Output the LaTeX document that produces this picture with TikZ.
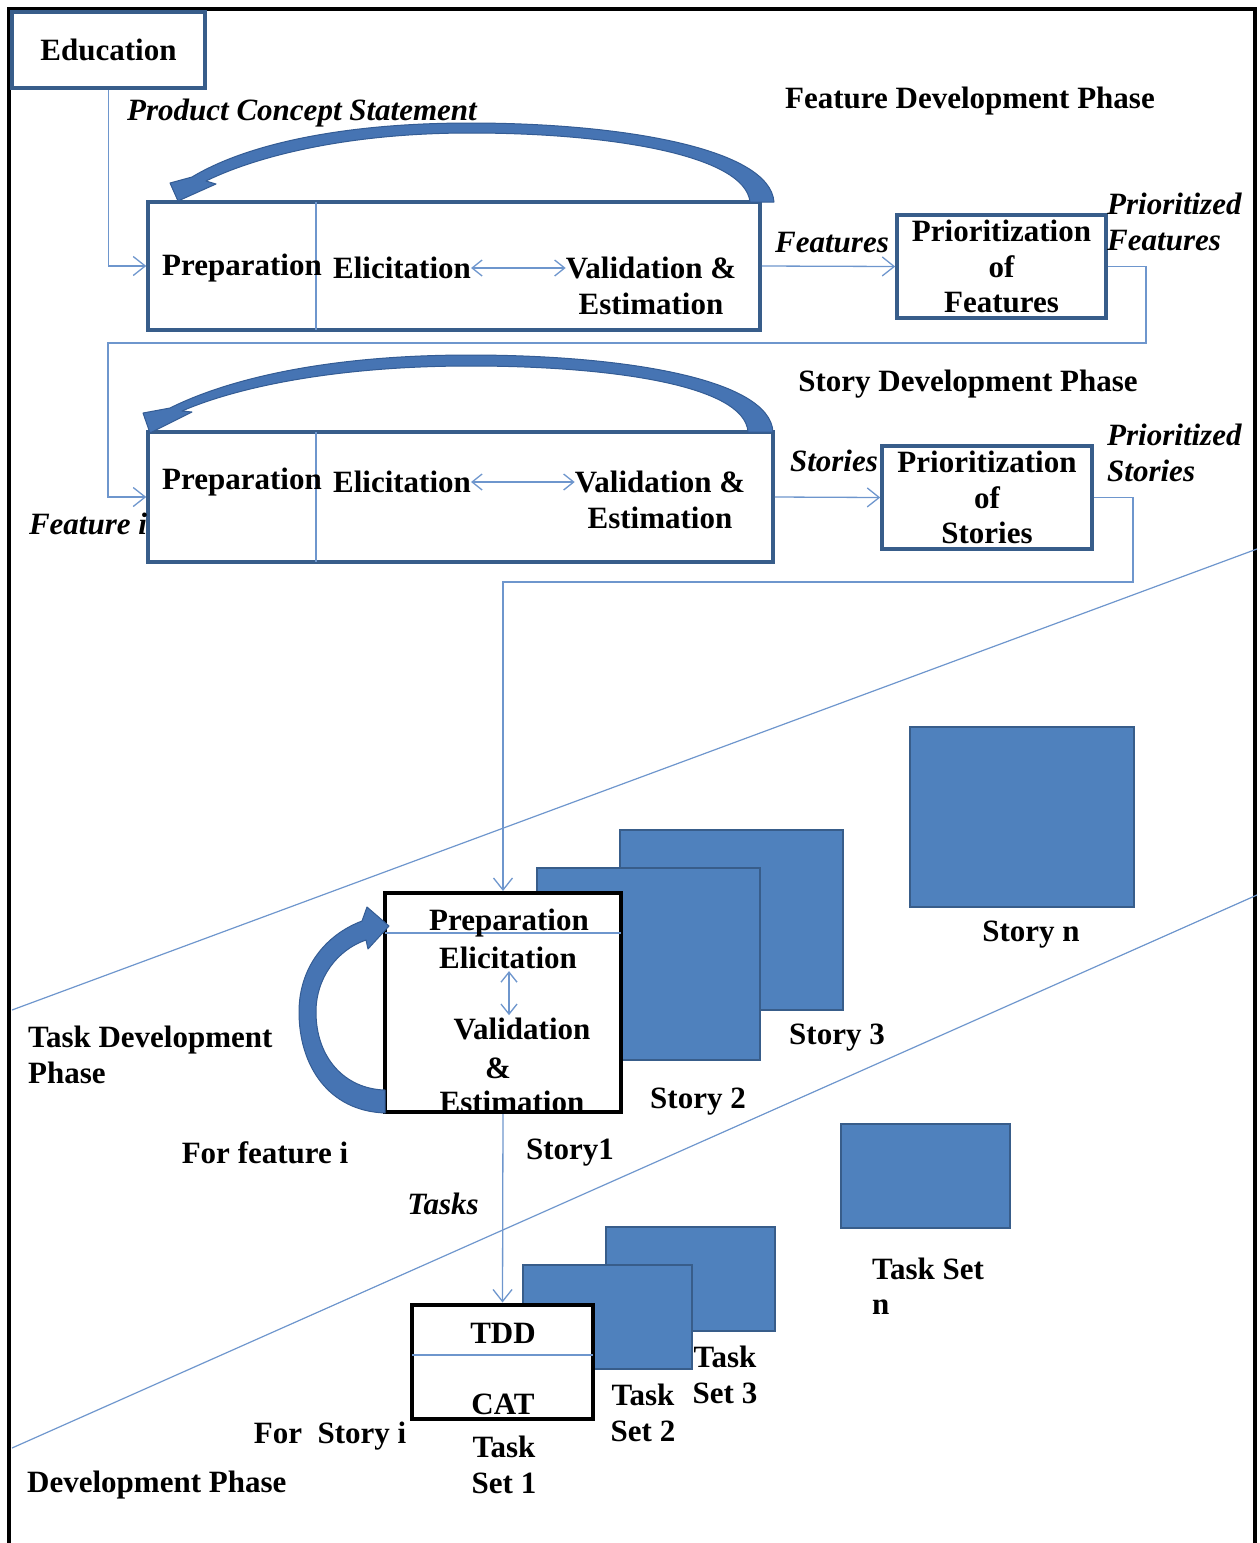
\documentclass[tikz,border=0pt]{standalone}
\usepackage{fontspec}
\setmainfont{Liberation Serif}
\usetikzlibrary{arrows.meta}
\definecolor{edge}{HTML}{385D8A}
\definecolor{fillblue}{HTML}{4F81BD}
\definecolor{linkblue}{HTML}{6E96CD}
\definecolor{bandblue}{HTML}{4674B3}
\definecolor{bandedge}{HTML}{345C94}
\begin{document}
\begin{tikzpicture}[x=1pt,y=-1pt,
  tx/.style={font=\bfseries\fontsize{31}{35.5}\selectfont, inner sep=0pt, align=center},
  itx/.style={tx, font=\bfseries\itshape\fontsize{31}{35.5}\selectfont},
  bluebox/.style={draw=edge, line width=3.5pt, fill=white, inner sep=0pt, tx},
  blackbox/.style={draw=black, line width=4pt, fill=white, inner sep=0pt},
  card/.style={draw=edge, line width=2pt, fill=fillblue, inner sep=0pt},
  conn/.style={draw=linkblue, line width=1.3pt, -{Straight Barb[length=12pt,width=19pt]}},
  both/.style={draw=linkblue, line width=1.3pt, {Straight Barb[length=10pt,width=16pt]}-{Straight Barb[length=10pt,width=16pt]}},
  divider/.style={draw=linkblue, line width=1.3pt},
  slash/.style={draw=linkblue, line width=1.2pt},
  band/.style={fill=bandblue, draw=bandedge, line width=1pt, line join=round}]

\useasboundingbox (0,0) rectangle (1260,1543);

% frame
\draw[line width=4pt, black] (8.7,1543) -- (8.7,8.7) -- (1254.7,8.7) -- (1254.7,1543);

% phase separators
\draw[slash] (12,1010) -- (1257,549);
\draw[slash] (12,1448) -- (1257,895);

% ---------- feature development ----------
\node[bluebox, minimum width=193pt, minimum height=76pt] (edu) at (108.5,50) {Education};
\node[itx] (pcs) at (302,113) {Product Concept Statement};
\node[tx] (fdp) at (970,101) {Feature Development Phase};

\node[bluebox, minimum width=612pt, minimum height=128pt] (fbox) at (454,266) {};
\draw[divider] (316,202) -- (316,330);
\node[tx] (prep1) at (242,268) {Preparation};
\node[tx] (elic1) at (402,268) {Elicitation};
\node[tx] (val1) at (651,286) {Validation \&\\Estimation};
\draw[both] (elic1.east) -- (elic1.east -| val1.west);

\draw[band] (774,202) .. controls (770,148) and (620,123) .. (470,123)
  .. controls (340,123) and (245,145) .. (192,177) -- (170,183) -- (178,201)
  -- (216,184) -- (206,181) .. controls (255,157) and (345,133) .. (470,133)
  .. controls (610,133) and (745,155) .. (750,202) -- cycle;

\node[bluebox, minimum width=209pt, minimum height=103pt] (pfbox) at (1001.5,266.5) {Prioritization\\of\\Features};
\node[itx] (feat) at (832,243) {Features};
\node[itx, anchor=west, align=left] (pfeat) at (1107,222) {Prioritized\\Features};

\draw[conn] (edu.south) |- (fbox.west);
\draw[conn] (fbox.east) -- (pfbox.west);

% ---------- story development ----------
\node[tx] (sdp) at (968,384) {Story Development Phase};
\node[bluebox, minimum width=625pt, minimum height=130pt] (sbox) at (460.5,497) {};
\draw[divider] (316,432) -- (316,562);
\node[tx] (prep2) at (242,482) {Preparation};
\node[tx] (elic2) at (402,482) {Elicitation};
\node[tx] (val2) at (660,500) {Validation \&\\Estimation};
\draw[both] (elic2.east) -- (elic2.east -| val2.west);

\draw[band] (773,432) .. controls (770,378) and (620,355) .. (470,355)
  .. controls (330,355) and (230,378) .. (170,408) -- (143,413) -- (150,433)
  -- (192,412) -- (182,411) .. controls (240,386) and (340,366) .. (470,366)
  .. controls (610,366) and (745,385) .. (748,432) -- cycle;

\node[bluebox, minimum width=210pt, minimum height=103pt] (psbox) at (987,497.5) {Prioritization\\of\\Stories};
\node[itx] (stor) at (834,461) {Stories};
\node[itx, anchor=west, align=left] (pstor) at (1107,453) {Prioritized\\Stories};
\node[itx] (fi) at (88,524) {Feature i};

\coordinate (l1) at (1146,343);
\coordinate (l2) at (108,343);
\draw[conn] (pfbox.east) -| (l1) -- (l2) |- (sbox.west);
\draw[conn] (sbox.east) -- (psbox.west);

% ---------- task development ----------
\node[card, minimum width=224pt, minimum height=180pt] (sn) at (1022,817) {};
\node[card, minimum width=223pt, minimum height=180pt] (s3) at (731.5,920) {};
\node[card, minimum width=223pt, minimum height=192pt] (s2) at (648.5,964) {};
\node[blackbox, minimum width=236pt, minimum height=219pt] (tbox) at (503,1002.5) {};
\draw[divider] (385,933) -- (621,933);
\node[tx] (prep3) at (509,923) {Preparation};
\node[tx] (elic3) at (508,958) {Elicitation};
\node[tx] (val3) at (522,1029) {Validation};
\node[tx] (amp3) at (498,1068) {\&};
\node[tx] (est3) at (512,1102) {Estimation};
\draw[both] (elic3.south) ++(1,2) -- ++(0,44);

\draw[band] (385,1113) .. controls (328,1111) and (299,1065) .. (299,1012)
  .. controls (299,968) and (325,935) .. (362,921) -- (367,907) -- (389,926)
  -- (368,949) -- (366,940) .. controls (337,950) and (316,978) .. (316,1012)
  .. controls (316,1058) and (345,1089) .. (385,1090) -- cycle;

\node[coordinate] (m1) at (1133,582) {};
\draw[conn] (psbox.east) -| (m1) -| (tbox.north);

\node[tx] (sln) at (1031,935) {Story n};
\node[tx] (sl3) at (837,1038) {Story 3};
\node[tx] (sl2) at (698,1102) {Story 2};
\node[tx] (sl1) at (570,1153) {Story1};
\node[tx, anchor=west, align=left] (tdp) at (28,1055) {Task Development\\Phase};
\node[tx] (ffi) at (265,1153) {For feature i};
\node[itx] (tasks) at (443,1204) {Tasks};

% ---------- development ----------
\node[card, minimum width=169pt, minimum height=104pt] (tn) at (925.5,1176) {};
\node[card, minimum width=169pt, minimum height=104pt] (t3) at (690.5,1279) {};
\node[card, minimum width=169pt, minimum height=104pt] (t2) at (607.5,1317) {};
\node[blackbox, minimum width=181pt, minimum height=114pt] (tdd) at (502.5,1361.5) {};
\draw[divider] (412,1355) -- (593,1355);
\node[tx] (tddl) at (503,1333) {TDD};
\node[tx] (catl) at (503,1404) {CAT};

\draw[conn] (tbox.south) -- (tdd.north);

\node[tx] (ts1) at (504,1465) {Task\\Set 1};
\node[tx] (ts2) at (643,1413) {Task\\Set 2};
\node[tx] (ts3) at (725,1375) {Task\\Set 3};
\node[tx, anchor=west, align=left] (tsn) at (872,1286) {Task Set\\n};
\node[tx] (fsi) at (330,1436) {For\ \ Story i};
\node[tx, anchor=west] (dp) at (27,1485) {Development Phase};

\end{tikzpicture}
\end{document}
